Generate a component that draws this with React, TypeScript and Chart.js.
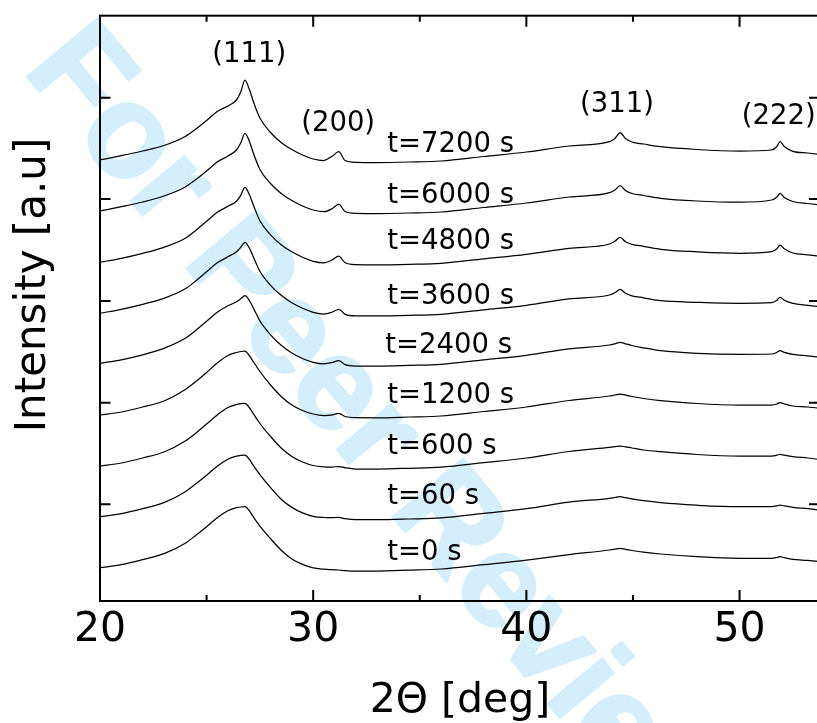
import React, { useEffect, useRef } from "react";
import { Chart, registerables } from "chart.js";

Chart.register(...registerables);

// 2-theta sample positions (deg)
const TWO_THETA = [20, 21, 22, 23, 24, 24.5, 25, 25.5, 26, 26.4, 26.6, 26.8, 27.0, 27.2, 27.5, 28, 28.5, 29, 29.5, 30, 30.5, 30.9, 31.2, 31.5, 32, 33, 34.5, 36, 38, 40, 42, 43.9, 44.15, 44.4, 44.65, 44.95, 45.5, 46.3, 48, 50, 51.5, 51.75, 51.9, 52.1, 52.5, 53.2, 54];

// stacked intensities (a.u., offset per pattern)
const I_0 = [33.3, 36.3, 41.3, 47.3, 57.8, 65.8, 74.3, 83.3, 90.3, 93.3, 94, 94.3, 90.3, 83.8, 74.8, 62.3, 50.8, 42.1, 36.6, 33.1, 31.8, 31.3, 31, 30.3, 29.8, 30, 30.8, 32, 36.3, 40.8, 46.3, 51, 51.8, 52.7, 51.6, 50.5, 48.8, 47, 44.3, 42.7, 42.7, 43.5, 44.3, 43.3, 41.7, 40.6, 38.8];
const I_60 = [84.3, 87.3, 92.3, 98.3, 109.3, 117.3, 125.8, 134.8, 141.8, 144.8, 145.6, 146, 141.8, 135.3, 126.3, 113.3, 101.8, 93.6, 88.1, 84.7, 83.5, 83.3, 83.7, 82.3, 81.3, 81.3, 82, 83.1, 87.6, 92.3, 98.8, 102.7, 103.5, 104.3, 103.3, 102.2, 100.3, 98.3, 95.8, 94.3, 94.3, 95.1, 96, 95.1, 93.7, 92.3, 90.3];
const I_600 = [135, 138, 143, 149, 160, 168, 177, 186, 193.5, 196.5, 197.3, 197.7, 193.5, 187, 177.5, 164.5, 153, 144.5, 139, 135.5, 134.2, 134, 134.5, 133.2, 132, 132, 132.7, 133.8, 138.3, 143, 149.5, 153.7, 154.3, 155, 154.2, 153, 151, 149.3, 146.5, 145, 145, 145.8, 146.7, 145.8, 144.3, 143, 141];
const I_1200 = [186, 189, 194, 200, 211.5, 219.5, 228.5, 238, 245.5, 248.5, 249.5, 250, 245.5, 239, 229.5, 216, 204.5, 196, 190.5, 187, 185.5, 186.2, 187.7, 184.5, 183.3, 183.2, 184, 185, 189.5, 194, 200.5, 205, 206, 207, 205.8, 204.5, 202.5, 200.3, 197.5, 196, 196, 197, 198.3, 197, 195, 194, 192];
const I_2400 = [237.7, 241.2, 246.2, 252.7, 262.7, 270.7, 279.7, 288.7, 295.2, 299.2, 302.2, 305.3, 300.7, 292.7, 280.2, 266.2, 255.7, 248, 242.5, 238.7, 237.2, 238.5, 240.3, 236.4, 235, 235, 235.7, 236.7, 241.2, 245.7, 252.2, 256, 257.2, 258.7, 257.2, 255.5, 253.2, 250.3, 247.7, 246.7, 247, 248.7, 250.3, 248.7, 246.7, 245.2, 243.2];
const I_3600 = [287.7, 291.7, 296.7, 302.7, 312.2, 320.2, 329.2, 338.2, 344.2, 349.2, 353.7, 358.7, 353.2, 343.7, 329.7, 315.7, 305.7, 298.2, 292.7, 288.7, 287, 289, 291.7, 286.7, 285.2, 285.2, 285.7, 286.7, 291.2, 295.7, 302.2, 306, 308.2, 311.7, 307.7, 305.2, 303.2, 300.3, 298.7, 297.7, 298.3, 300.7, 303.7, 300.7, 297.7, 295.7, 293.7];
const I_4800 = [338.7, 342.7, 347.7, 353.7, 362.7, 370.7, 379.7, 388.7, 394.7, 399.7, 405.7, 413.7, 406.7, 395.7, 380.2, 366.2, 356.2, 349.2, 343.7, 339.7, 338.2, 341.2, 345, 338.2, 336.4, 336.2, 336.7, 337.7, 342.2, 346.7, 352.7, 357, 359.7, 363.7, 359.2, 356.7, 354.7, 351.7, 349.2, 347.7, 349.3, 352.2, 356, 352.2, 348, 346.2, 344.2];
const I_6000 = [390, 394.3, 399, 405, 414, 421.5, 430, 439, 445, 451, 458, 467.7, 460, 447.5, 431.5, 417.5, 407.5, 400.5, 395, 391, 389.3, 392.5, 396.7, 389.5, 387.7, 387.5, 388, 389, 393.5, 398, 404, 408.3, 411, 415.3, 410.5, 407.5, 405.5, 402.7, 400, 398.8, 401, 404, 407.7, 403.5, 399.5, 397.5, 395.5];
const I_7200 = [441, 445.3, 450, 455.5, 464.5, 472, 480.5, 489.5, 495, 501, 509, 521, 512, 499, 483, 468.5, 458.5, 451.5, 446, 442, 440.5, 445, 449.3, 440.5, 438.7, 438.5, 439, 440, 444.5, 449, 455, 459.3, 462.5, 468.3, 462.5, 459, 457, 454.3, 451.5, 450, 451, 454.5, 459.3, 454.5, 449.7, 448, 446];

const SERIES = [I_0, I_60, I_600, I_1200, I_2400, I_3600, I_4800, I_6000, I_7200];

// time labels and their anchors (data coords)
const T_LABELS = ["t=0 s", "t=60 s", "t=600 s", "t=1200 s", "t=2400 s", "t=3600 s", "t=4800 s", "t=6000 s", "t=7200 s"];
const T_LABEL_X = [33.47, 33.47, 33.47, 33.47, 33.38, 33.47, 33.47, 33.47, 33.47];
const T_LABEL_Y = [41, 97, 147, 198, 248.5, 297, 352, 398, 449.5];

// reflection labels
const PEAK_LABELS = ["(111)", "(200)", "(311)", "(222)"];
const PEAK_LABEL_X = [27.0, 31.17, 44.25, 51.84];
const PEAK_LABEL_Y = [538.7, 470.5, 489.3, 477.5];

// axes
const X_MIN = 20;
const X_MAX = 53.75;
const Y_MIN = 0;
const Y_MAX = 585.3;
const X_MAJOR = [20, 30, 40, 50];
const X_MINOR = [25, 35, 45];
const Y_TICKS = [96.7, 198.3, 300, 402, 503.3];
const X_TITLE = "2\u0398 [deg]";
const Y_TITLE = "Intensity [a.u]";
const WATERMARK = "For Peer Review";

const FONT = "'DejaVu Sans', Verdana, sans-serif";

const framePlugin = {
  id: "framePlugin",
  beforeDraw(chart: any) {
    const { ctx } = chart;
    ctx.save();
    ctx.fillStyle = "#ffffff";
    ctx.fillRect(0, 0, chart.width, chart.height);
    ctx.translate(22, 70);
    ctx.rotate((50.3 * Math.PI) / 180);
    ctx.font = "bold 132px 'Liberation Sans', Arial, sans-serif";
    ctx.fillStyle = "rgb(213,238,251)";
    ctx.strokeStyle = "rgb(213,238,251)";
    ctx.lineWidth = 3;
    ctx.lineJoin = "round";
    ctx.textAlign = "left";
    ctx.textBaseline = "alphabetic";
    ctx.fillText(WATERMARK, 0, 0);
    ctx.strokeText(WATERMARK, 0, 0);
    ctx.restore();
  },
  afterDraw(chart: any) {
    const { ctx, chartArea: a } = chart;
    const x = chart.scales.x;
    const y = chart.scales.y;
    ctx.save();
    ctx.strokeStyle = "#000";
    ctx.lineWidth = 2;
    ctx.strokeRect(a.left, a.top, a.right - a.left, a.bottom - a.top);
    ctx.beginPath();
    for (const v of X_MAJOR) {
      const px = x.getPixelForValue(v);
      ctx.moveTo(px, a.bottom);
      ctx.lineTo(px, a.bottom - 11);
      ctx.moveTo(px, a.top);
      ctx.lineTo(px, a.top + 11);
    }
    for (const v of X_MINOR) {
      const px = x.getPixelForValue(v);
      ctx.moveTo(px, a.bottom);
      ctx.lineTo(px, a.bottom - 6);
      ctx.moveTo(px, a.top);
      ctx.lineTo(px, a.top + 6);
    }
    for (const v of Y_TICKS) {
      const py = y.getPixelForValue(v);
      ctx.moveTo(a.left, py);
      ctx.lineTo(a.left + 10.5, py);
      ctx.moveTo(a.right, py);
      ctx.lineTo(a.right - 10.5, py);
    }
    ctx.stroke();

    ctx.fillStyle = "#000";
    ctx.textBaseline = "alphabetic";
    // time labels
    ctx.font = `27.5px ${FONT}`;
    ctx.textAlign = "left";
    T_LABELS.forEach((t, i) => {
      ctx.fillText(t, x.getPixelForValue(T_LABEL_X[i]), y.getPixelForValue(T_LABEL_Y[i]));
    });
    // reflection labels
    ctx.textAlign = "center";
    PEAK_LABELS.forEach((t, i) => {
      ctx.fillText(t, x.getPixelForValue(PEAK_LABEL_X[i]), y.getPixelForValue(PEAK_LABEL_Y[i]));
    });
    // axis titles
    ctx.font = `41px ${FONT}`;
    ctx.textAlign = "center";
    ctx.fillText(X_TITLE, 460, 712);
    ctx.save();
    ctx.translate(44.6, 285);
    ctx.rotate(-Math.PI / 2);
    ctx.font = `42px ${FONT}`;
    ctx.fillText(Y_TITLE, 0, 0);
    ctx.restore();
    ctx.restore();
  },
};

export default function App() {
  const ref = useRef<HTMLCanvasElement>(null);
  useEffect(() => {
    const canvas = ref.current;
    if (!canvas) return;
    const chart = new Chart(canvas, {
      type: "line",
      data: {
        datasets: SERIES.map((s, i) => ({
          label: T_LABELS[i],
          data: TWO_THETA.map((t, j) => ({ x: t, y: s[j] })),
          borderColor: "#000",
          borderWidth: 1.25,
          pointRadius: 0,
          fill: false,
          cubicInterpolationMode: "monotone" as const,
        })),
      },
      options: {
        responsive: false,
        animation: false,
        devicePixelRatio: 1,
        layout: { padding: { top: 15.7, right: 20.5, left: 0, bottom: 0 } },
        plugins: { legend: { display: false }, tooltip: { enabled: false } },
        scales: {
          x: {
            type: "linear",
            min: X_MIN,
            max: X_MAX,
            grid: { display: false, drawTicks: false },
            border: { display: false },
            afterBuildTicks: (scale: any) => {
              scale.ticks = X_MAJOR.map((v) => ({ value: v }));
            },
            afterFit: (scale: any) => {
              scale.height = 122;
            },
            ticks: {
              color: "#000",
              font: { family: FONT, size: 41 },
              padding: 5,
              maxRotation: 0,
              autoSkip: false,
              callback: (v: any) => String(v),
            },
          },
          y: {
            type: "linear",
            min: Y_MIN,
            max: Y_MAX,
            grid: { display: false, drawTicks: false },
            border: { display: false },
            ticks: { display: false },
            afterFit: (scale: any) => {
              scale.width = 100;
            },
          },
        },
      },
      plugins: [framePlugin],
    });
    return () => chart.destroy();
  }, []);
  return (
    <div
      style={{
        position: "fixed",
        left: 0,
        top: 0,
        width: 817,
        height: 723,
        overflow: "hidden",
        background: "#fff",
      }}
    >
      <canvas ref={ref} width={840} height={723} style={{ display: "block", width: 840, height: 723 }} />
    </div>
  );
}
